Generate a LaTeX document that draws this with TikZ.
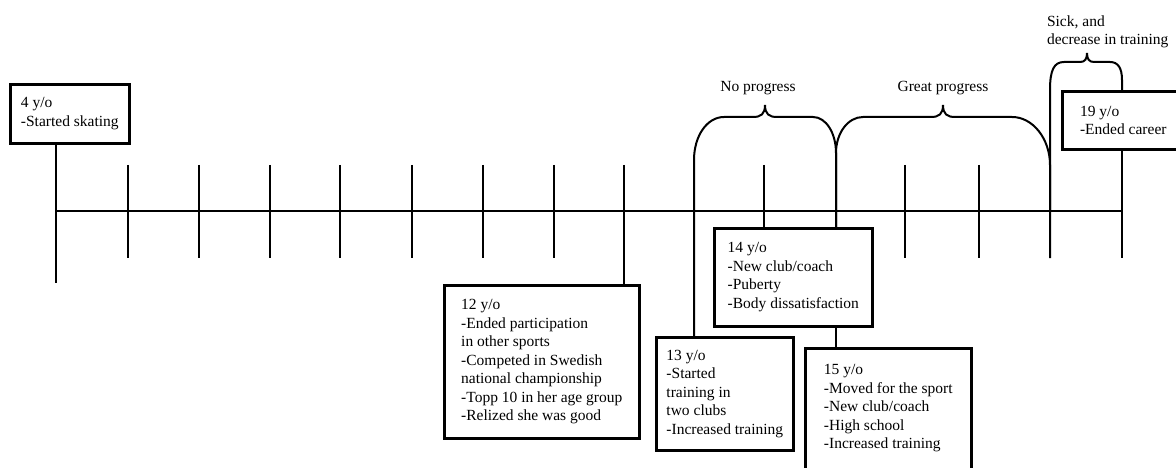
\documentclass[tikz,border=0pt]{standalone}
\usepackage{fontspec}
\setmainfont{Liberation Serif}
\begin{document}
\begin{tikzpicture}[
x=1pt, y=-1pt,
line width=2.1pt,
box/.style={rectangle, draw, line width=2.6pt, anchor=north west, align=left, inner sep=0pt, font=\fontsize{15.5}{18.5}\selectfont},
span/.style={line width=2pt},
lbl/.style={align=left, inner sep=0pt, font=\fontsize{15.5}{18.5}\selectfont}
]
\clip (0,0) rectangle (1176,468);
\foreach \x [count=\i from 0] in {56,128,199,270,340,412,483,554,624,694,764,836,905,979,1050,1122}
  \coordinate (t\i) at (\x,211);
\node[box, minimum width=119pt, minimum height=59pt] (age4) at (9,83) {4 y/o\\-Started skating};
\node[box, minimum width=195pt, minimum height=153pt] (age12) at (443,284) {12 y/o\\-Ended participation\\in other sports\\-Competed in Swedish\\national championship\\-Topp 10 in her age group\\-Relized she was good};
\node[box, minimum width=137pt, minimum height=113pt] (age13) at (655,336) {13 y/o\\-Started\\training in\\two clubs\\-Increased training};
\node[box, minimum width=158pt, minimum height=98pt] (age14) at (713,227) {14 y/o\\-New club/coach\\-Puberty\\-Body dissatisfaction};
\node[box, minimum width=166pt, minimum height=135pt] (age15) at (804,347) {15 y/o\\-Moved for the sport\\-New club/coach\\-High school\\-Increased training\\~};
\node[box, minimum width=122pt, minimum height=58pt] (age19) at (1061,90) {19 y/o\\-Ended career};
\node[lbl] (np) at (758,88) {No progress};
\node[lbl] (gp) at (943,88) {Great progress};
\node[lbl, anchor=west] (sick) at (1046,32) {Sick, and\\decrease in training};
\draw (t0) -- (t15);
\draw (age4.south -| t0) -- (t0) -- ++(0,72);
\foreach \i in {1,...,7,12,13,14}
  \draw (t\i) ++(0,-46) -- ++(0,93);
\draw (t8) ++(0,-46) -- (age12.north -| t8);
\draw (t10) ++(0,-46) -- (age14.north -| t10);
\draw (age14.south -| t11) -- (age15.north -| t11);
\draw (age19.south -| t15) -- (t15) -- ++(0,47);
\draw[span] (age13.north -| t9) -- (694,160) .. controls (694,136) and (707,117) .. (724,117) -- (753,117)
  .. controls (761,117) and (765,114) .. (765,105) .. controls (765,114) and (769,117) .. (777,117)
  -- (813,117) .. controls (826,117) and (836,133) .. (836,153) -- (age14.north -| t11);
\draw[span] (age14.north -| t11) -- (836,153) .. controls (836,133) and (848,117) .. (863,117) -- (931,117)
  .. controls (939,117) and (943,114) .. (943,105) .. controls (943,114) and (947,117) .. (955,117)
  -- (1012,117) .. controls (1033,117) and (1050,139) .. (1050,165) -- (t14) -- ++(0,47);
\draw[span] (t14) -- (1050,90) .. controls (1050,70) and (1054,62) .. (1064,62) -- (1080,62)
  .. controls (1085,62) and (1087,59) .. (1087,53) .. controls (1087,59) and (1089,62) .. (1094,62)
  -- (1110,62) .. controls (1118,62) and (1122,68) .. (1122,80) -- (age19.north -| t15);
\end{tikzpicture}
\end{document}
